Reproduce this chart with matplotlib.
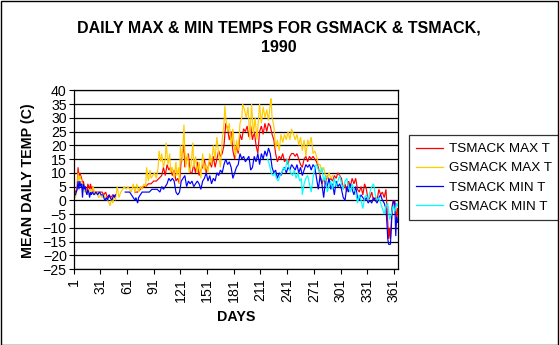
import numpy as np
import matplotlib
matplotlib.use("Agg")
import matplotlib.pyplot as plt
from matplotlib.patches import Rectangle

plt.rcParams['font.family'] = ['Liberation Sans', 'DejaVu Sans']

# ---------------- data ----------------
gs_max_days = [1, 3, 5, 6, 7, 8, 9, 10, 12, 13, 15, 17, 19, 21, 23, 25, 27, 29, 31, 33, 35, 37, 39, 41, 42, 44, 45, 47, 48, 50,
               52, 54, 56, 58, 60, 62, 64, 66, 68, 70, 72, 74, 76, 78, 80, 82, 83, 85, 87, 88, 90, 92, 94, 96, 97, 99, 100,
               102, 104, 105, 107, 109, 110, 112, 114, 116, 117, 119, 120, 121, 123, 125, 126, 127, 129, 131, 133, 135,
               136, 138, 140, 142, 144, 146, 148, 150, 152, 154, 156, 158, 160, 162, 164, 166, 168, 170, 171, 172, 174,
               176, 178, 180, 182, 183, 184, 186, 188, 190, 191, 193, 195, 197, 199, 201, 203, 205, 207, 209, 210, 212,
               214, 216, 218, 220, 222, 223, 224, 226, 228, 230, 232, 234, 236, 238, 240, 242, 244, 246, 248, 250, 252,
               254, 256, 258, 260, 262, 264, 266, 268, 270, 272, 274, 276, 278, 280, 282, 284, 286, 288, 290, 292]
gs_max_vals = [2, 1, 4, 10, 7, 9, 8, 7, 5, 3, 4, 2, 4, 3, 5, 2, 3, 1, 2, 1, 2, 1, 0, -1, -2, 1, -1, 2, 0, 5,
               1, 3, 4, 5, 4, 5, 4, 3, 6, 3, 6, 3, 5, 4, 6, 5, 12, 7, 11, 8, 9, 10, 8, 12, 18, 14, 17,
               12, 15, 21, 13, 17, 10, 12, 8, 14, 9, 12, 6, 20, 14, 27.5, 18, 12, 17, 10, 13, 21,
               12, 16, 10, 14, 8, 17, 11, 13, 10, 17, 13, 20, 15, 23, 17, 12, 22, 28, 34.5, 30, 25,
               28, 20, 26, 18, 16, 22, 18, 28, 30, 35, 33, 30, 34, 22, 35, 24, 30, 22, 31, 35, 28,
               34, 30, 33, 29, 35, 37, 30, 27, 19, 22, 18, 24, 21, 24, 22, 25, 22, 26, 24, 22, 24,
               20, 23, 18, 22, 16, 22, 20, 23, 17, 18, 16, 13, 13, 10, 12, 9, 8, 10, 8, 9]

ts_max_days = [1, 2, 3, 4, 5, 6, 7, 8, 9, 10, 11, 12, 13, 14, 15, 16, 17, 18, 19, 20, 21, 22, 23, 25, 27, 29, 31, 33, 35,
               37, 39, 41, 43, 45, None,
               70, 73, 76, 79, 82, 85, 88, 91, 94, 97, 100, 102, 104, 106, 108, 110, 112, 114, 116, 118, 120, 122, 124,
               125, 126, 128, 130, 132, 134, 136, 138, 140, 142, 144, 146, 148, 150, 152, 154, 156, 158, 160, 162, 164,
               166, 168, 170, 172, 174, 176, 178, 180, 182, 184, 186, 188, 190, 192, 194, 196, 198, 200, 202, 204, 206,
               208, 210, 212, 214, 216, 218, 220, 222, 224, 226, 228, 230, 232, 234, 236, 238, 240, 242, 244, 246, 248,
               250, 252, 254, 256, 258, 260, 262, 264, 266, 268, 270, 272, 274, 276, 278, 280, 282, 284, 286, 288, 290,
               292, 294, 296, 298, 300, 302, 304, 306, 308, 310, 312, 314, 316, 318, 320, 322, 324, 326, 328, 330, 332,
               334, 336, 338, 340, 342, 344, 346, 348, 350, 352, 353, 354, 355, 356, 357, 358, 359, 360, 361, 362, 363,
               364, 365]
ts_max_vals = [5, 4, 3, 3, 5, 12, 8, 10, 9, 8, 6, 7, 5, 5, 4, 3, 6, 5, 4, 6, 4, 5, 3, 3, 3, 3, 3, 3, 2,
               3, 1, 2, 1, 2, None,
               3, 3, 4, 5, 5, 6, 6, 7, 7, 8, 9, 12, 9, 13, 11, 12, 9, 11, 7, 8, 6, 15, 18,
               20, 12, 15, 17, 10, 10, 13, 10, 14, 9, 11, 12, 15, 10, 12, 14, 12, 16, 12, 15, 18,
               16, 17, 20, 28, 26, 22, 25, 18, 15, 20, 17, 24, 22, 26, 25, 27, 23, 27, 22, 25, 20,
               17, 25, 27, 24, 28, 25, 28, 27, 24, 22, 17, 14, 16, 15, 17, 14, 15, 13, 16, 17, 17,
               16, 17, 15, 13, 12, 15, 16, 14, 16, 15, 16, 15, 14, 12, 9, 6, 8, 6, 9, 7, 8,
               7, 9, 8, 10, 9, 8, 4, 6, 3, 7, 5, 8, 6, 8, 4, 3, 5, 2, 6, 4, 0,
               1, 3, 0, 1, 0, 4, 2, 3, 1, 4, -2, -8, -14, -10, -14, -8, -2, 0, -1, 0, -3,
               -8, -3]

ts_min_days = [1, 2, 3, 4, 5, 6, 7, 8, 9, 10, 11, 12, 13, 14, 15, 16, 17, 18, 19, 20, 21, 22, 24, 26, 28, 30, 32, 34,
               36, 38, 39, 41, 42, 44, 46, 47, 48, None,
               59, 62, 64, 66, 68, 70, 71, 73, 74, 76, 78, 80, 83, 86, 89, 92, 95, 98, 100, 102, 104, 106, 108, 110,
               112, 114, 116, 118, 120, 122, 124, 126, 128, 130, 132, 134, 136, 138, 140, 142, 144, 146, 148, 150, 152,
               154, 156, 158, 160, 162, 164, 166, 168, 170, 172, 174, 176, 178, 180, 182, 184, 186, 188, 190, 192, 194,
               196, 198, 200, 202, 204, 206, 208, 210, 212, 214, 216, 218, 220, 222, 224, 226, 228, 230, 232, 234, 236,
               238, 240, 242, 244, 246, 248, 250, 252, 254, 256, 258, 260, 262, 264, 266, 268, 270, 272, 274, 276, 278,
               280, 282, 284, 286, 288, 290, 292, 294, 296, 298, 300, 302, 304, 306, 308, 310, 312, 314, 316, 318, 320,
               322, 324, 326, 328, 330, 332, 334, 336, 338, 340, 342, 344, 346, 348, 350, 352, 353, 354, 355, 357, 358,
               359, 360, 361, 362, 363, 364, 365]
ts_min_vals = [3, 2, 2, 3, 4, 7, 4, 7, 5, 6, 1, 6, 4, 5, 3, 2, 4, 3, 1, 3, 2, 3, 2, 3, 2, 3, 2, 2,
               0, 1, 0, 2, 1, 0, 2, 1, 2, None,
               3, 3, 3, 2, 1, 0, 1, -1, 1, 2, 3, 3, 3, 3, 4, 4, 4, 3, 5, 4, 5, 6, 8, 7,
               8, 7, 3, 2, 3, 7, 8, 9, 5, 7, 6, 7, 5, 6, 7, 6, 4, 7, 8, 10, 7,
               9, 6, 8, 7, 10, 9, 11, 10, 13, 15, 13, 14, 12, 8, 10, 12, 13, 17, 15, 16, 14,
               15, 16, 11, 12, 16, 14, 17, 13, 17, 15, 18, 16, 19, 17, 12, 10, 11, 8, 10, 9, 11,
               12, 10, 12, 11, 13, 12, 11, 13, 10, 12, 9, 11, 13, 12, 13, 11, 13, 12, 8, 4, 9,
               6, 1, 7, 5, 8, 4, 6, 2, 7, 5, 6, 4, 1, 0, 5, 3, 6, 4, 2, 5, 1,
               0, 2, 1, 0, 1, -1, 0, -1, 1, 0, -1, 1, 2, 0, -1, -3, -8, -14, -16, -16, -10,
               -3, -1, 0, -2, -13, -6, -8]

gs_min_days = [219, 221, 223, 225, 227, 229, 231, 233, 235, 237, 239, 241, 243, 245, 247, 249, 251, 253, 255, 257, 258,
               260, 262, 264, 266, 268, 270, 272, 274, 276, 278, 280, 282, 284, 286, 288, 290, 292, 294, 296, 298, 300,
               302, 304, 306, 308, 310, 312, 314, 316, 318, 320, 322, 324, 326, 328, 330, 332, 334, 336, 338, 340, 342,
               344, 346, 348, 350, 352, 354, 356, 358, 360, 362, 364, 365]
gs_min_vals = [15, 13, 10, 9, 10, 8, 7, 9, 10, 12, 11, 15, 12, 10, 9, 11, 8, 10, 7, 8, 2,
               6, 8, 9, 6, 3, 8, 12, 13, 11, 10, 12, 7, 9, 3, 5, 7, 4, 8, 5, 7, 9,
               6, 4, 7, 8, 5, 3, 6, 4, 3, -1, 2, 0, -3, 1, 2, 0, 3, 5, 6, 2, 0,
               1, -1, -3, -5, -2, -1, -7, -5, -2, -4, -1, -2]

series_names = ['TSMACK MAX T', 'GSMACK MAX T', 'TSMACK MIN T', 'GSMACK MIN T']
series_colors = ['#FF0000', '#FFCC00', '#0000FF', '#00FFFF']

x_ticks = list(range(1, 362, 30))
y_ticks = list(range(-25, 41, 5))


def as_arrays(days, vals):
    d = np.array([np.nan if v is None else v for v in days], dtype=float)
    v = np.array([np.nan if x is None else x for x in vals], dtype=float)
    return d, v


# ---------------- figure ----------------
W, H = 559, 345
fig = plt.figure(figsize=(W / 100, H / 100), dpi=100)
fig.patch.set_facecolor('white')

ax = fig.add_axes([73.6 / W, 1 - 269.1 / H, (397.8 - 73.6) / W, (269.1 - 90.3) / H])

data = [as_arrays(ts_max_days, ts_max_vals), as_arrays(gs_max_days, gs_max_vals),
        as_arrays(ts_min_days, ts_min_vals), as_arrays(gs_min_days, gs_min_vals)]
for (d, v), name, col in zip(data, series_names, series_colors):
    ax.plot(d, v, color=col, lw=0.85, label=name, solid_joinstyle='miter')

ax.set_xlim(1, 365.3)
ax.set_ylim(-25, 40)
ax.set_yticks(y_ticks)
ax.set_xticks(x_ticks)
ax.set_xticklabels([str(t) for t in x_ticks], rotation=90)
ax.tick_params(axis='both', direction='out', length=3.5, width=0.8, color='black',
               labelsize=10.2, pad=1.5)
ax.tick_params(axis='x', pad=3)
ax.grid(axis='y', color='black', lw=0.9)
ax.set_axisbelow(True)
for s in ax.spines.values():
    s.set_color('black')
    s.set_linewidth(0.9)

fig.text(279 / W, 1 - 37.5 / H, 'DAILY MAX & MIN TEMPS FOR GSMACK & TSMACK,\n1990',
         ha='center', va='center', fontsize=11.5, fontweight='bold', linespacing=1.35)
fig.text(28 / W, 1 - 180.5 / H, 'MEAN DAILY TEMP (C)', rotation=90, ha='center', va='center',
         fontsize=10.3, fontweight='bold')
fig.text(236 / W, 1 - 317 / H, 'DAYS', ha='center', va='center', fontsize=10.3, fontweight='bold')

leg = ax.legend(loc='upper left', bbox_to_anchor=(409 / W, 1 - 135.4 / H),
                bbox_transform=fig.transFigure, borderaxespad=0, frameon=True,
                fancybox=False, fontsize=9.7, handlelength=2.0, handletextpad=0.4,
                labelspacing=0.5, borderpad=0.55)
leg.get_frame().set_edgecolor('black')
leg.get_frame().set_linewidth(0.9)
for h in leg.get_lines():
    h.set_linewidth(0.9)

fig.add_artist(Rectangle((0.5 / W, 0.5 / H), (W - 1.5) / W, (H - 1.5) / H, transform=fig.transFigure,
                         fill=False, edgecolor='black', lw=1.0))

fig.savefig('out.png', dpi=100)
